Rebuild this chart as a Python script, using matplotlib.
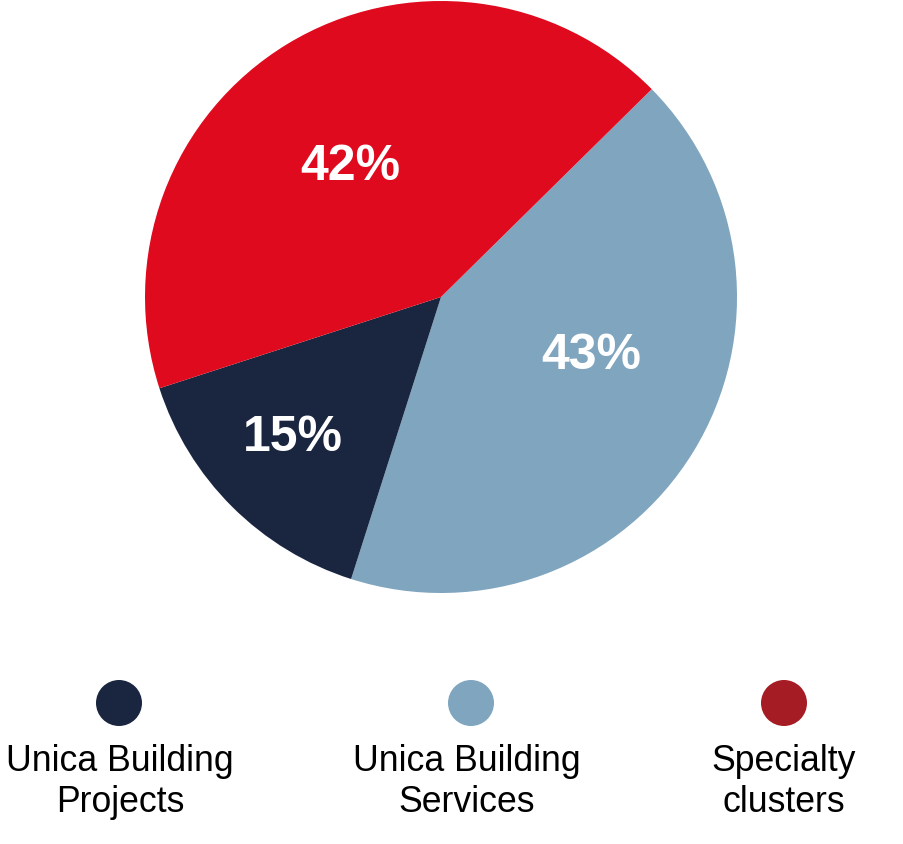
import matplotlib.pyplot as plt
import numpy as np

plt.rcParams['font.family'] = ['Liberation Sans', 'DejaVu Sans']

segments = ['Unica Building\nServices', 'Unica Building\nProjects', 'Specialty\nclusters']
slice_sizes = [42.3, 15.1, 42.6]
pct_labels = ['43%', '15%', '42%']
pie_colors = ['#7fa5bf', '#1a2640', '#e00a1e']

legend_labels = ['Unica Building\nProjects', 'Unica Building\nServices', 'Specialty\nclusters']
legend_colors = ['#1a2640', '#7fa5bf', '#a51c24']

W, H = 904, 844
fig = plt.figure(figsize=(W / 100, H / 100), dpi=100)

# pie axes, radius ~296 px around (441, 297)
ax = fig.add_axes([145 / W, 1 - 593 / H, 592 / W, 592 / H])
wedges, _ = ax.pie(slice_sizes, colors=pie_colors, startangle=44.6, counterclock=False,
                   radius=1, wedgeprops=dict(linewidth=0))
ax.set_xlim(-1, 1)
ax.set_ylim(-1, 1)
ax.set_aspect('equal')
ax.axis('off')

# label placement (angle shift in deg, radius)
label_pos = [(10, 0.545), (-1.5, 0.69), (3.8, 0.535)]
for w, lab, (shift, r) in zip(wedges, pct_labels, label_pos):
    ang = np.deg2rad((w.theta1 + w.theta2) / 2 + shift)
    ax.text(r * np.cos(ang), r * np.sin(ang), lab, color='white',
            fontsize=36, fontweight='bold', ha='center', va='center')

# legend row
lax = fig.add_axes([0, 0, 1, 1])
lax.set_xlim(0, W)
lax.set_ylim(H, 0)
lax.axis('off')
legend_x = [119, 471, 784]
text_x = [120, 467, 784]
lax.scatter(legend_x, [703] * 3, s=1097, c=legend_colors, linewidths=0)
for tx, lab in zip(text_x, legend_labels):
    lax.text(tx, 782, lab, fontsize=25.7, ha='center', va='center',
             linespacing=1.2, color='black')

fig.savefig('out.png', dpi=100)
